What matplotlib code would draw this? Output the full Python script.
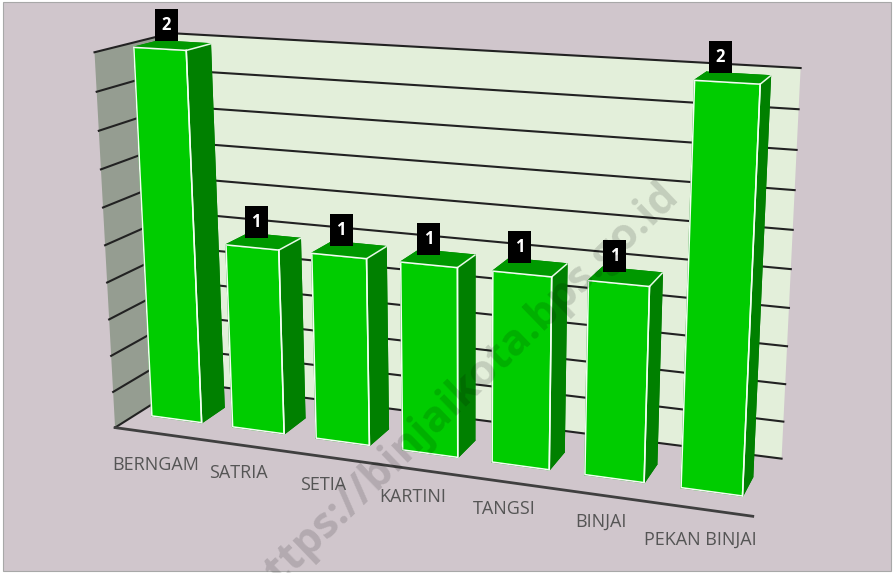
import numpy as np
import matplotlib
matplotlib.use('Agg')
import matplotlib.pyplot as plt
from matplotlib.patches import Rectangle
from mpl_toolkits.mplot3d.art3d import Poly3DCollection

W, H = 893, 573

# ---- data ----
categories = ['BERNGAM', 'SATRIA', 'SETIA', 'KARTINI', 'TANGSI', 'BINJAI', 'PEKAN BINJAI']
values = [2, 1, 1, 1, 1, 1, 2]
grid_levels = [0.0, 0.2, 0.4, 0.6, 0.8, 1.0, 1.2, 1.4, 1.6, 1.8, 2.0]

# ---- layout ----
label_px = [(155.5, 464.5), (238, 473), (323, 485), (413, 496.5), (504, 509), (601, 522), (700.5, 539.5)]
# Camera of the reference's 3-D view: (category, depth, value) -> image pixel
camera = np.array([[78.3724, 85.612, -12.8828, 115.076],
                   [3.94109, -15.4796, -189.107, 427.597],
                   [-0.0169058, 0.077057, -0.0275018, 1.0]])
inset, depth0, depth1 = 0.19, 0.29, 0.62
zmax = 2.0
nx = len(categories)

# ---- colours ----
BG = '#D0C6CC'
BACK_WALL = '#E3EFDA'
SIDE_WALL = '#959D91'
FRONT = '#00CC00'
TOP = '#009900'
SIDE = '#008000'

fig = plt.figure(figsize=(W / 100, H / 100), dpi=100, facecolor='white')
frame = Rectangle((3 / W, 2 / H), (W - 5) / W, (H - 4) / H, transform=fig.transFigure,
                  facecolor=BG, edgecolor='#A8A8A8', linewidth=0.8, zorder=-5)
fig.add_artist(frame)

ax = fig.add_axes([0, 0, 1, 1], projection='3d', computed_zorder=False)
ax.set_proj_type('ortho')
ax.set_axis_off()
ax.patch.set_visible(False)
ax.apply_aspect = lambda position=None: None
M = np.vstack([camera[0], camera[1], camera[2] - [0, 0, 0, 1], camera[2]])
ax.get_proj = lambda: M
ax.viewLim.intervalx = (0, W)
ax.viewLim.intervaly = (H, 0)


def project(x, y, z):
    u, v, w = camera @ np.array([x, y, z, 1.0])
    return u / w, v / w


# walls
ax.add_collection3d(Poly3DCollection([[(0, 1, 0), (nx, 1, 0), (nx, 1, zmax), (0, 1, zmax)]],
                                     facecolor=BACK_WALL, edgecolor='none', zorder=1))
ax.add_collection3d(Poly3DCollection([[(0, 0, 0), (0, 1, 0), (0, 1, zmax), (0, 0, zmax)]],
                                     facecolor=SIDE_WALL, edgecolor='none', zorder=1))
# grid
for g in grid_levels:
    ax.plot([0, 0, nx], [0, 1, 1], [g, g, g], color='#222222', lw=1.5, zorder=2)
ax.plot([0, nx], [0, 0], [0, 0], color='#3f3f3f', lw=2.0, zorder=2)

# bars
for i, v in enumerate(values):
    ax.bar3d(i + inset, depth0, 0, 1 - 2 * inset, depth1 - depth0, v, shade=False,
             color=[SIDE, TOP, FRONT, SIDE, SIDE, SIDE],
             edgecolor=[SIDE, TOP, '#F2FFF2', SIDE, SIDE, SIDE],
             linewidth=1.1, zorder=3 + i * 0.01)
    ax.plot([i + 1 - inset] * 2, [depth0, depth1], [v, v], color='#E8F8E8', lw=1.1, zorder=3.5)
    ax.plot([i + inset, i + 1 - inset], [depth0, depth0], [v, v], color='#F2FFF2', lw=1.1, zorder=3.5)
    ax.plot([i + 1 - inset] * 2, [depth0, depth0], [0, v], color='#F2FFF2', lw=1.1, zorder=3.5)
    # data label: black tag above the back of the bar
    u, vv = project(i + 0.5, depth1, v)
    cx, cy = u - 18, vv - 11 - 3 * v
    fig.add_artist(Rectangle(((cx - 11.5) / W, 1 - (cy + 16) / H), 23 / W, 32 / H,
                             transform=fig.transFigure, facecolor='black', edgecolor='none', zorder=6))
    fig.text(cx / W, 1 - cy / H, str(v), ha='center', va='center', color='white',
             fontsize=12, fontweight='bold', family='Open Sans', zorder=7)

# category labels
for name, (px, py) in zip(categories, label_px):
    fig.text(px / W, 1 - py / H, name, ha='center', va='center', fontsize=13,
             family='Open Sans', color='#555555', zorder=7)

# watermark
fig.text(462 / W, 1 - 392 / H, 'https://binjaikota.bps.go.id', rotation=44, rotation_mode='anchor',
         ha='center', va='center', fontsize=31, fontweight='bold', family='Open Sans',
         color='black', alpha=0.14, zorder=10)

fig.savefig('out.png', dpi=100, facecolor=fig.get_facecolor())
